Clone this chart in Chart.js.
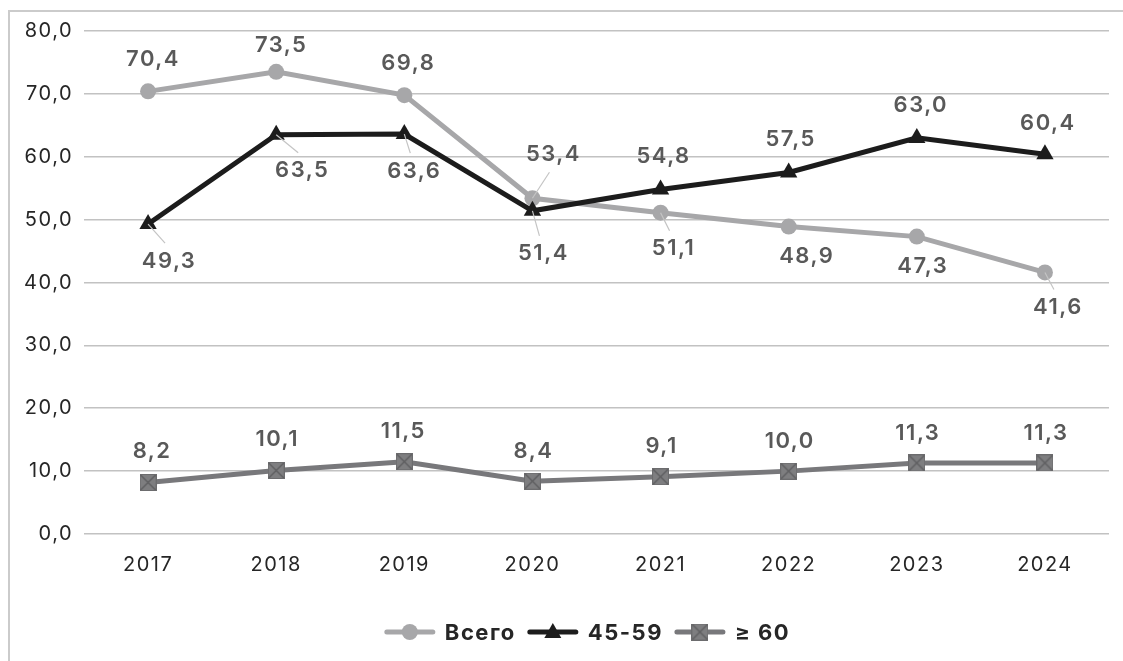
<!DOCTYPE html>
<html>
<head>
<meta charset="utf-8">
<script src="https://cdn.jsdelivr.net/npm/chart.js@4/dist/chart.umd.min.js"></script>
<style>
  html, body { margin: 0; padding: 0; background: #ffffff; }
  canvas { display: block; }
</style>
</head>
<body>
<canvas id="chart" width="1123" height="661"></canvas>
<script>
// Years on the horizontal axis
const years = ['2017', '2018', '2019', '2020', '2021', '2022', '2023', '2024'];

// Series values
const totalValues  = [70.4, 73.5, 69.8, 53.4, 51.1, 48.9, 47.3, 41.6];
const age4559Values = [49.3, 63.5, 63.6, 51.4, 54.8, 57.5, 63.0, 60.4];
const age60Values  = [8.2, 10.1, 11.5, 8.4, 9.1, 10.0, 11.3, 11.3];

const seriesNames = ['Всего', '45-59', '≥ 60'];

// Value axis range
const yMin = 0;
const yMax = 80;
const yStep = 10;

const FONT = 'Inter, "DejaVu Sans", sans-serif';
const SPACING = '1.5px';
const fmt = v => v.toFixed(1).replace('.', ',');

// Square-with-cross marker used for the "≥ 60" series
function crossSquare(size) {
  const c = document.createElement('canvas');
  c.width = size; c.height = size;
  const g = c.getContext('2d');
  g.fillStyle = '#7e7e80';
  g.fillRect(0, 0, size, size);
  g.strokeStyle = '#5e5e60';
  g.lineWidth = 1.4;
  g.beginPath();
  g.moveTo(1, 1); g.lineTo(size - 1, size - 1);
  g.moveTo(size - 1, 1); g.lineTo(1, size - 1);
  g.stroke();
  g.strokeStyle = '#6c6c6e';
  g.lineWidth = 1;
  g.strokeRect(0.5, 0.5, size - 1, size - 1);
  return c;
}
const crossMarker = crossSquare(17);

// Wider tracking for all canvas text
const spacingPlugin = {
  id: 'spacing',
  beforeUpdate(chart) { chart.ctx.letterSpacing = SPACING; },
  beforeDraw(chart) { chart.ctx.letterSpacing = SPACING; }
};

// Outer frame (top and left edges)
const framePlugin = {
  id: 'frame',
  beforeDraw(chart) {
    const ctx = chart.ctx;
    ctx.save();
    ctx.strokeStyle = '#cbcbcb';
    ctx.lineWidth = 2;
    ctx.beginPath();
    ctx.moveTo(9, chart.height);
    ctx.lineTo(9, 11);
    ctx.lineTo(chart.width, 11);
    ctx.stroke();
    ctx.restore();
  }
};

// Value labels with optional leader lines
const valueLabelPlugin = {
  id: 'valueLabels',
  afterDatasetsDraw(chart, args, opts) {
    const ctx = chart.ctx;
    ctx.save();
    ctx.font = '600 22px ' + FONT;
    ctx.textAlign = 'center';
    ctx.textBaseline = 'middle';
    chart.data.datasets.forEach((ds, i) => {
      const meta = chart.getDatasetMeta(i);
      const offs = opts.offsets[i];
      const leaders = opts.leaders[i];
      meta.data.forEach((pt, j) => {
        const [dx, dy] = offs[j];
        const lx = pt.x + dx;
        const ly = pt.y + dy;
        if (leaders[j]) {
          const edgeY = dy > 0 ? ly - 18 : ly + 18;
          ctx.strokeStyle = '#c4c4c4';
          ctx.lineWidth = 1.2;
          ctx.beginPath();
          ctx.moveTo(pt.x, pt.y);
          ctx.lineTo(lx - 3, edgeY);
          ctx.stroke();
        }
        ctx.fillStyle = '#595959';
        ctx.fillText(fmt(ds.data[j]), lx + 1, ly);
      });
    });
    ctx.restore();
  }
};

// Legend drawn as line-with-marker samples
const legendPlugin = {
  id: 'lineLegend',
  afterDraw(chart, args, opts) {
    const ctx = chart.ctx;
    ctx.save();
    ctx.font = 'bold 22px ' + FONT;
    ctx.textBaseline = 'middle';
    const lineLen = 50, gapText = 10, gapItem = 12;
    const items = chart.data.datasets.map(ds => ({ ds, w: ctx.measureText(ds.label).width }));
    const total = items.reduce((s, it) => s + lineLen + gapText + it.w, 0) + gapItem * (items.length - 1);
    let x = chart.width / 2 - total / 2 + opts.shiftX;
    const y = opts.y;
    items.forEach(({ ds, w }) => {
      ctx.strokeStyle = ds.borderColor;
      ctx.lineWidth = 5;
      ctx.lineCap = 'round';
      ctx.beginPath();
      ctx.moveTo(x + 2, y);
      ctx.lineTo(x + lineLen - 2, y);
      ctx.stroke();
      const cx = x + lineLen / 2;
      ctx.fillStyle = ds.pointBackgroundColor;
      if (ds.pointStyle === 'circle') {
        ctx.beginPath();
        ctx.arc(cx, y, 8, 0, Math.PI * 2);
        ctx.fill();
      } else if (ds.pointStyle === 'triangle') {
        ctx.beginPath();
        ctx.moveTo(cx, y - 9);
        ctx.lineTo(cx + 8.5, y + 6);
        ctx.lineTo(cx - 8.5, y + 6);
        ctx.closePath();
        ctx.fill();
      } else {
        ctx.drawImage(crossMarker, cx - 8.5, y - 8.5);
      }
      ctx.fillStyle = '#262626';
      ctx.textAlign = 'left';
      ctx.fillText(ds.label, x + lineLen + gapText, y + 1);
      x += lineLen + gapText + w + gapItem;
    });
    ctx.restore();
  }
};

new Chart(document.getElementById('chart'), {
  type: 'line',
  data: {
    labels: years,
    datasets: [
      {
        label: seriesNames[0],
        data: totalValues,
        borderColor: '#a7a7a9',
        backgroundColor: '#a7a7a9',
        pointBackgroundColor: '#a7a7a9',
        pointBorderColor: '#a7a7a9',
        borderWidth: 5,
        pointStyle: 'circle',
        pointRadius: 8,
        pointBorderWidth: 0,
        pointHoverRadius: 8,
        tension: 0,
        order: 2
      },
      {
        label: seriesNames[1],
        data: age4559Values,
        borderColor: '#1c1c1c',
        backgroundColor: '#1c1c1c',
        pointBackgroundColor: '#1c1c1c',
        pointBorderColor: '#1c1c1c',
        borderWidth: 5,
        pointStyle: 'triangle',
        pointRadius: 10,
        pointBorderWidth: 0,
        pointHoverRadius: 10,
        tension: 0,
        order: 1
      },
      {
        label: seriesNames[2],
        data: age60Values,
        borderColor: '#78787b',
        backgroundColor: '#78787b',
        pointBackgroundColor: '#7e7e80',
        pointBorderColor: '#7e7e80',
        borderWidth: 5,
        pointStyle: crossMarker,
        pointRadius: 9,
        pointHoverRadius: 9,
        tension: 0,
        order: 0
      }
    ]
  },
  options: {
    responsive: false,
    animation: false,
    events: [],
    layout: { padding: { left: 0, right: 14, top: 31, bottom: 0 } },
    scales: {
      x: {
        offset: true,
        grid: { display: false, drawTicks: false },
        border: { display: false },
        ticks: {
          color: '#262626',
          font: { family: FONT, size: 20 },
          padding: 19,
          maxRotation: 0
        },
        afterFit(scale) { scale.height = 127; }
      },
      y: {
        min: yMin,
        max: yMax,
        grid: { color: '#c2c2c2', lineWidth: 1.6, drawTicks: false },
        border: { display: false },
        ticks: {
          stepSize: yStep,
          color: '#262626',
          font: { family: FONT, size: 20 },
          padding: 11,
          callback: v => fmt(v)
        },
        afterFit(scale) { scale.width = 84; }
      }
    },
    plugins: {
      legend: { display: false },
      tooltip: { enabled: false },
      lineLegend: { y: 632, shiftX: 26 },
      valueLabels: {
        offsets: [
          [[4, -32], [4, -26], [3, -32], [20, -44], [12, 36], [17, 30], [5, 30], [12, 35]],
          [[20, 37], [25, 36], [9, 37], [10, 43], [2, -33], [1, -33], [3, -32], [2, -31]],
          [[3, -31], [0, -31], [-2, -30], [0, -30], [0, -30], [0, -30], [0, -30], [0, -30]]
        ],
        leaders: [
          [false, false, false, true, true, false, false, true],
          [true, true, true, true, false, false, false, false],
          [false, false, false, false, false, false, false, false]
        ]
      }
    }
  },
  plugins: [spacingPlugin, framePlugin, valueLabelPlugin, legendPlugin]
});
</script>
</body>
</html>
